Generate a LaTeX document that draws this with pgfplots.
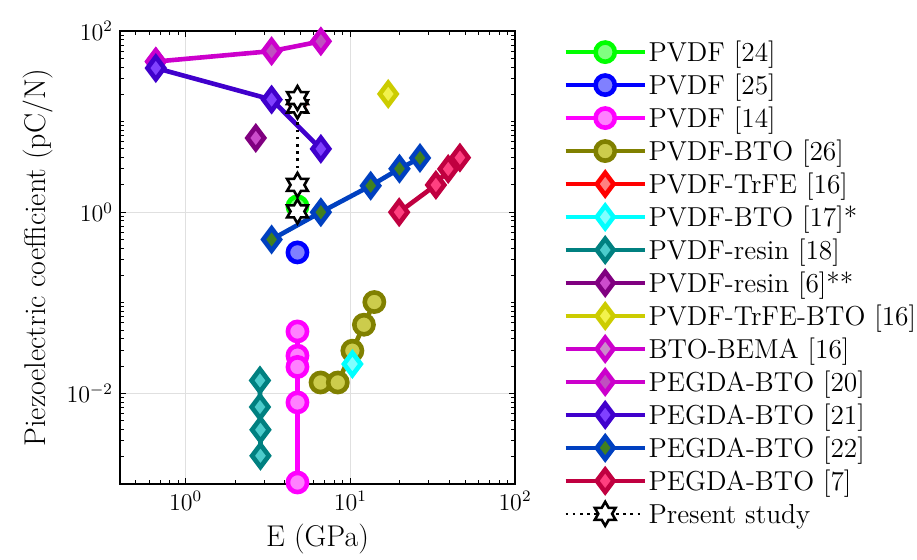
\documentclass[border=0pt]{standalone}
\usepackage{pgfplots}
\pgfplotsset{compat=1.18}
\usetikzlibrary{plotmarks}

\pgfdeclareplotmark{hexagram}{%
  \pgfpathmoveto{\pgfqpointpolar{90}{\pgfplotmarksize}}%
  \pgfpathlineto{\pgfqpointpolar{120}{0.577\pgfplotmarksize}}%
  \pgfpathlineto{\pgfqpointpolar{150}{\pgfplotmarksize}}%
  \pgfpathlineto{\pgfqpointpolar{180}{0.577\pgfplotmarksize}}%
  \pgfpathlineto{\pgfqpointpolar{210}{\pgfplotmarksize}}%
  \pgfpathlineto{\pgfqpointpolar{240}{0.577\pgfplotmarksize}}%
  \pgfpathlineto{\pgfqpointpolar{270}{\pgfplotmarksize}}%
  \pgfpathlineto{\pgfqpointpolar{300}{0.577\pgfplotmarksize}}%
  \pgfpathlineto{\pgfqpointpolar{330}{\pgfplotmarksize}}%
  \pgfpathlineto{\pgfqpointpolar{0}{0.577\pgfplotmarksize}}%
  \pgfpathlineto{\pgfqpointpolar{30}{\pgfplotmarksize}}%
  \pgfpathlineto{\pgfqpointpolar{60}{0.577\pgfplotmarksize}}%
  \pgfpathclose
  \pgfusepathqfillstroke
}

\definecolor{cGreen}{HTML}{00FF00}\definecolor{fGreen}{HTML}{80FF80}
\definecolor{cBlue}{HTML}{0000FF}\definecolor{fBlue}{HTML}{8080FF}
\definecolor{cMag}{HTML}{FF00FF}\definecolor{fMag}{HTML}{FF80FF}
\definecolor{cOlive}{HTML}{808000}\definecolor{fOlive}{HTML}{CCCC4C}
\definecolor{cRed}{HTML}{FF0000}\definecolor{fRed}{HTML}{FF8080}
\definecolor{cCyan}{HTML}{00FFFF}\definecolor{fCyan}{HTML}{80FFFF}
\definecolor{cTeal}{HTML}{008080}\definecolor{fTeal}{HTML}{4CCCCC}
\definecolor{cPurp}{HTML}{800080}\definecolor{fPurp}{HTML}{CC4CCC}
\definecolor{cYel}{HTML}{CCCC00}\definecolor{fYel}{HTML}{F2F24C}
\definecolor{cBema}{HTML}{CC00CC}\definecolor{fBema}{HTML}{CC88CC}
\definecolor{cPeg}{HTML}{CC00CC}\definecolor{fPeg}{HTML}{C050C0}
\definecolor{cViol}{HTML}{4000CC}\definecolor{fViol}{HTML}{8040FF}
\definecolor{cRoy}{HTML}{0040C0}\definecolor{fRoy}{HTML}{408020}
\definecolor{cCrim}{HTML}{C00040}\definecolor{fCrim}{HTML}{FF4080}

\pgfplotsset{
  circ/.style 2 args={color=#1, line width=2.3pt, mark=*, mark size=4.8pt,
    mark options={fill=#2, solid}},
  diam/.style 2 args={color=#1, line width=2.3pt, mark=diamond*, mark size=5.6pt,
    mark options={fill=#2, solid}},
}

\begin{document}
\begin{tikzpicture}
\begin{axis}[
  at={(0,0)}, anchor=south west,
  scale only axis, width=197.5pt, height=226.5pt,
  xmode=log, ymode=log,
  xmin=0.4, xmax=100, ymin=1e-3, ymax=100,
  xtick={1,10,100}, ytick={1e-2,1,100},
  minor xtick={0.4,0.5,0.6,0.7,0.8,0.9,2,3,4,5,6,7,8,9,20,30,40,50,60,70,80,90},
  minor ytick={0.002,0.003,0.004,0.005,0.006,0.007,0.008,0.009,0.02,0.03,0.04,0.05,0.06,0.07,0.08,0.09,0.1,0.2,0.3,0.4,0.5,0.6,0.7,0.8,0.9,2,3,4,5,6,7,8,9,10,20,30,40,50,60,70,80,90},
  tick align=inside,
  major tick length=3pt, minor tick length=1.8pt,
  every tick/.style={black, line width=0.5pt},
  xmajorgrids, ymajorgrids,
  major grid style={black!12, line width=0.5pt},
  axis line style={line width=0.6pt},
  tick label style={font=\fontsize{11.5}{13}\selectfont},
  xlabel={E (GPa)}, ylabel={Piezoelectric coefficient (pC/N)},
  label style={font=\fontsize{15}{18}\selectfont},
  legend cell align=left,
  legend image code/.code={
    \path[draw=none, fill=none] (0pt,-8.245pt) rectangle (39.5pt,8.245pt);
    \draw[mark repeat=2,mark phase=2,#1] plot coordinates {(0pt,0pt) (19.75pt,0pt) (39.5pt,0pt)};
  },
  legend style={draw=none, fill=none, inner sep=0pt, row sep=0pt, column sep=0pt,
    at={(1.1215,0.9907)}, anchor=north west,
    font=\fontsize{13.7}{16}\selectfont,
    nodes={inner xsep=0.8pt, inner ysep=0pt, text height=12.4pt, text depth=3pt}},
]
\addplot[circ={cGreen}{fGreen}] coordinates {(4.78,1.16)};
\addlegendentry{PVDF [24]}
\addplot[circ={cBlue}{fBlue}] coordinates {(4.78,0.36)};
\addlegendentry{PVDF [25]}
\addplot[circ={cMag}{fMag}] coordinates {(4.78,0.0483) (4.78,0.0261) (4.78,0.0196) (4.78,0.00796) (4.78,0.00104)};
\addlegendentry{PVDF [14]}
\addplot[circ={cOlive}{fOlive}] coordinates {(6.6,0.0132) (8.4,0.0132) (10.3,0.0296) (12.1,0.0573) (14.0,0.102)};
\addlegendentry{PVDF-BTO [26]}
\addplot[diam={cRed}{fRed}] coordinates {(4.78,16)};
\addlegendentry{PVDF-TrFE [16]}
\addplot[diam={cCyan}{fCyan}] coordinates {(10.3,0.0211)};
\addlegendentry{PVDF-BTO [17]*}
\addplot[diam={cTeal}{fTeal}] coordinates {(2.83,0.0139) (2.83,0.00708) (2.85,0.00397) (2.85,0.00205)};
\addlegendentry{PVDF-resin [18]}
\addplot[diam={cPurp}{fPurp}] coordinates {(2.67,6.6)};
\addlegendentry{PVDF-resin [6]**}
\addplot[diam={cYel}{fYel}] coordinates {(17.0,20.2)};
\addlegendentry{PVDF-TrFE-BTO [16]}
\addplot[diam={cBema}{fBema}] coordinates {(0.66,46)};
\addlegendentry{BTO-BEMA [16]}
\addplot[diam={cPeg}{fPeg}] coordinates {(0.66,46) (3.33,60) (6.63,77)};
\addlegendentry{PEGDA-BTO [20]}
\addplot[diam={cViol}{fViol}] coordinates {(0.66,39) (3.33,17.5) (6.63,5.0)};
\addlegendentry{PEGDA-BTO [21]}
\addplot[diam={cRoy}{fRoy}] coordinates {(3.33,0.50) (6.63,1.0) (13.3,1.96) (19.9,3.02) (26.5,3.97)};
\addlegendentry{PEGDA-BTO [22]}
\addplot[diam={cCrim}{fCrim}] coordinates {(19.8,1.0) (33.1,2.0) (39.3,3.0) (46.3,4.0)};
\addlegendentry{PEGDA-BTO [7]}
\addplot[black, line width=1.3pt, dash pattern=on 1.3pt off 2.3pt, mark=hexagram, mark size=6pt,
  mark options={solid, fill=white, line width=1.3pt}] coordinates {(4.78,1.02) (4.78,2.0) (4.78,14.7) (4.78,18.2)};
\addlegendentry{Present study}
\end{axis}
\pgfresetboundingbox
\useasboundingbox (-60pt,-37.5pt) rectangle (398.5pt,242pt);
\end{tikzpicture}
\end{document}
